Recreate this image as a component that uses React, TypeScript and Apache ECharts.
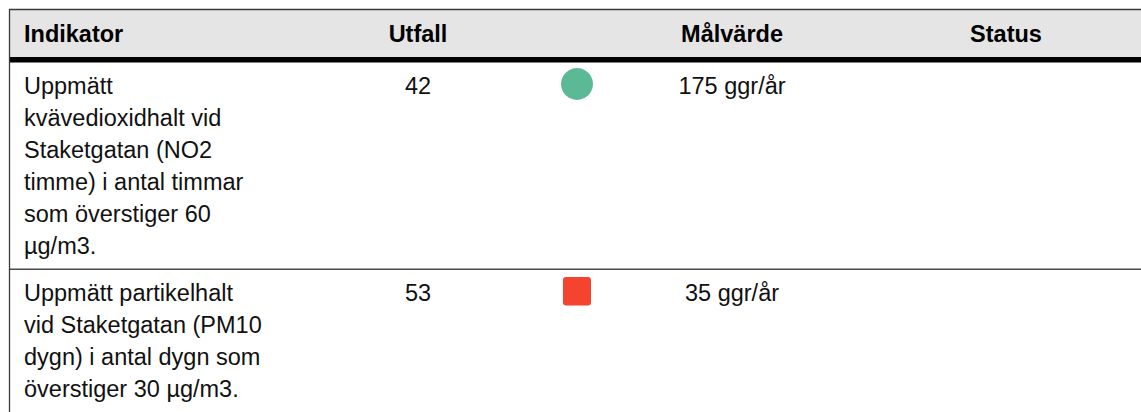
import React, { useEffect, useRef } from "react";
import * as echarts from "echarts";

// ---- Data ----
const headers = ["Indikator", "Utfall", "Målvärde", "Status"];
const indicatorLines: string[][] = [
  [
    "Uppmätt",
    "kvävedioxidhalt vid",
    "Staketgatan (NO2",
    "timme) i antal timmar",
    "som överstiger 60",
    "µg/m3.",
  ],
  [
    "Uppmätt partikelhalt",
    "vid Staketgatan (PM10",
    "dygn) i antal dygn som",
    "överstiger 30 µg/m3.",
  ],
];
const outcomes = [42, 53];
const targets = ["175 ggr/år", "35 ggr/år"];
const statuses = ["ok", "fail"];

// ---- Layout / style ----
const W = 1141;
const H = 412;
const FONT = "'Liberation Sans', Arial, Helvetica, sans-serif";
const FS = 23.5;
const LINE_H = 32;
const TABLE_LEFT = 9;
const TABLE_TOP = 9;
const HEADER_BOTTOM = 57;
const THICK_H = 5.5;
const ROW_PAD = 7;
const headerX = [24, 418, 732, 1006];
const headerAlign = ["left", "center", "center", "center"];
const outcomeX = 418;
const statusX = 577;
const targetX = 732;
const statusColors: Record<string, string> = { ok: "#5bb995", fail: "#f4432f" };

export default function App() {
  const ref = useRef<HTMLDivElement>(null);
  useEffect(() => {
    if (!ref.current) return;
    const chart = echarts.init(ref.current, null, { renderer: "svg" });
    const els: any[] = [];

    // header background
    els.push({
      type: "rect",
      shape: { x: TABLE_LEFT, y: TABLE_TOP, width: W - TABLE_LEFT, height: HEADER_BOTTOM - TABLE_TOP },
      style: { fill: "#e5e5e5" },
    });
    // top border
    els.push({
      type: "line",
      shape: { x1: TABLE_LEFT, y1: TABLE_TOP + 0.5, x2: W, y2: TABLE_TOP + 0.5 },
      style: { stroke: "#3a3a3a", lineWidth: 1.3 },
    });
    // thick header underline
    els.push({
      type: "rect",
      shape: { x: TABLE_LEFT, y: HEADER_BOTTOM, width: W - TABLE_LEFT, height: THICK_H },
      style: { fill: "#000" },
    });
    // header texts
    headers.forEach((h, i) => {
      els.push({
        type: "text",
        x: headerX[i],
        y: 33.5,
        style: {
          text: h,
          font: `bold ${FS}px ${FONT}`,
          fill: "#000",
          align: headerAlign[i],
          verticalAlign: "middle",
        },
      });
    });

    // rows
    let top = HEADER_BOTTOM + THICK_H;
    indicatorLines.forEach((lines, r) => {
      const firstCenter = top + ROW_PAD + LINE_H / 2;
      lines.forEach((ln, k) => {
        els.push({
          type: "text",
          x: 24,
          y: firstCenter + k * LINE_H,
          style: { text: ln, font: `${FS}px ${FONT}`, fill: "#111", align: "left", verticalAlign: "middle" },
        });
      });
      els.push({
        type: "text",
        x: outcomeX,
        y: firstCenter,
        style: { text: String(outcomes[r]), font: `${FS}px ${FONT}`, fill: "#111", align: "center", verticalAlign: "middle" },
      });
      els.push({
        type: "text",
        x: targetX,
        y: firstCenter,
        style: { text: targets[r], font: `${FS}px ${FONT}`, fill: "#111", align: "center", verticalAlign: "middle" },
      });
      const st = statuses[r];
      if (st === "ok") {
        els.push({
          type: "circle",
          shape: { cx: statusX, cy: firstCenter - 1.5, r: 16 },
          style: { fill: statusColors[st] },
        });
      } else {
        els.push({
          type: "rect",
          shape: { x: statusX - 14, y: firstCenter - 16, width: 28, height: 28.5, r: 3 },
          style: { fill: statusColors[st] },
        });
      }
      const bottom = top + ROW_PAD * 2 + lines.length * LINE_H;
      if (r < indicatorLines.length - 1) {
        els.push({
          type: "line",
          shape: { x1: TABLE_LEFT, y1: bottom + 0.75, x2: W, y2: bottom + 0.75 },
          style: { stroke: "#4a4a4a", lineWidth: 1.6 },
        });
      }
      top = bottom + 1.5;
    });

    // left border
    els.push({
      type: "line",
      shape: { x1: TABLE_LEFT + 0.5, y1: TABLE_TOP, x2: TABLE_LEFT + 0.5, y2: H },
      style: { stroke: "#3a3a3a", lineWidth: 1.3 },
    });

    chart.setOption({
      animation: false,
      backgroundColor: "#ffffff",
      graphic: { elements: els },
    });
    return () => chart.dispose();
  }, []);
  return (
    <div
      ref={ref}
      style={{ position: "absolute", left: 0, top: 0, width: W, height: H }}
    />
  );
}
